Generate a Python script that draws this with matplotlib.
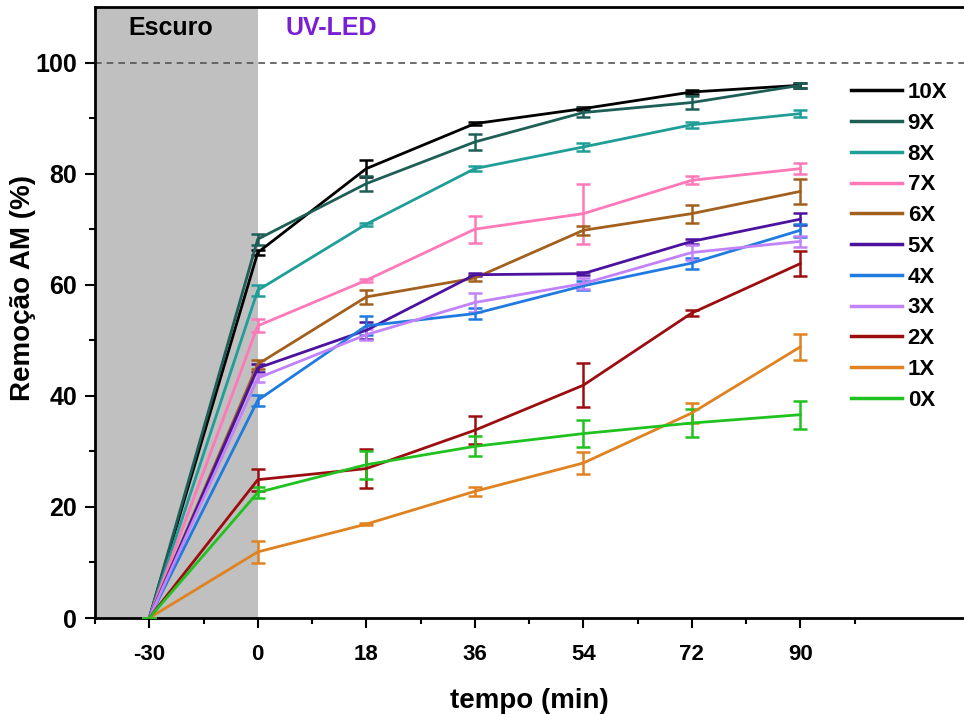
import numpy as np
import matplotlib.pyplot as plt

plt.rcParams['font.family'] = ['Liberation Sans', 'DejaVu Sans']
plt.rcParams['font.weight'] = 'bold'

# tempo (min) - plotted as equally spaced categories
tempo = ['-30', '0', '18', '36', '54', '72', '90']

series = ['10X', '9X', '8X', '7X', '6X', '5X', '4X', '3X', '2X', '1X', '0X']
colors = ['#000000', '#1d5e57', '#1f9e98', '#ff78b8', '#a2601c', '#4b12a0',
          '#1f7be0', '#c182fa', '#9c0d10', '#e0821f', '#1fc21f']

y_10x = [0, 65.8, 80.9, 89.0, 91.7, 94.7, 95.9]
y_9x = [0, 68.2, 78.2, 85.7, 91.0, 92.8, 95.9]
y_8x = [0, 59.0, 70.9, 80.9, 84.8, 88.8, 90.8]
y_7x = [0, 52.6, 60.8, 70.0, 72.8, 78.8, 80.9]
y_6x = [0, 45.7, 57.8, 61.2, 69.8, 72.8, 76.8]
y_5x = [0, 45.0, 51.8, 61.8, 62.0, 67.8, 71.8]
y_4x = [0, 39.2, 52.6, 54.8, 59.8, 63.9, 69.8]
y_3x = [0, 43.2, 51.0, 56.8, 60.2, 65.8, 67.8]
y_2x = [0, 24.9, 26.9, 33.8, 41.9, 54.9, 63.8]
y_1x = [0, 11.9, 16.9, 22.8, 27.9, 36.9, 48.8]
y_0x = [0, 22.6, 27.6, 30.9, 33.2, 35.1, 36.6]

e_10x = [0, 0.5, 1.5, 0.3, 0.3, 0.4, 0.4]
e_9x = [0, 1.0, 1.3, 1.4, 0.8, 1.1, 0.4]
e_8x = [0, 1.0, 0.3, 0.5, 0.8, 0.5, 0.6]
e_7x = [0, 1.2, 0.3, 2.4, 5.4, 0.7, 1.0]
e_6x = [0, 0.8, 1.2, 0.5, 0.8, 1.6, 2.2]
e_5x = [0, 0.7, 1.5, 0.3, 0.3, 0.5, 1.1]
e_4x = [0, 1.0, 1.7, 1.0, 0.8, 1.0, 1.2]
e_3x = [0, 0.8, 1.0, 1.7, 1.0, 1.4, 1.0]
e_2x = [0, 2.0, 3.5, 2.5, 4.0, 0.6, 2.3]
e_1x = [0, 2.0, 0.2, 0.8, 2.0, 1.8, 2.3]
e_0x = [0, 1.0, 2.5, 1.8, 2.5, 2.5, 2.5]

values = [y_10x, y_9x, y_8x, y_7x, y_6x, y_5x, y_4x, y_3x, y_2x, y_1x, y_0x]
errors = [e_10x, e_9x, e_8x, e_7x, e_6x, e_5x, e_4x, e_3x, e_2x, e_1x, e_0x]

fig = plt.figure(figsize=(9.64, 7.14), dpi=100)
ax = fig.add_axes([95 / 964, 96 / 714, 869 / 964, 611 / 714])

x = np.arange(len(tempo))

# dark period (before the lamp is on) shading
ax.axvspan(-0.5, 1, color='#c0c0c0', zorder=0, lw=0)
ax.axhline(100, color='#555555', ls=(0, (4, 3)), lw=1.2, zorder=1)

for name, c, y, e in zip(series, colors, values, errors):
    ax.errorbar(x, y, yerr=e, color=c, lw=2, elinewidth=1.8, capsize=5,
                capthick=1.8, label=name, zorder=3)

ax.set_xlim(-0.5, -0.5 + 869 / 108.5)
ax.set_ylim(0, 110)

ax.set_xticks(x)
ax.set_xticklabels(tempo)
ax.set_xticks(np.arange(-0.5, 7, 1), minor=True)
ax.set_yticks(np.arange(0, 101, 20))
ax.set_yticks(np.arange(10, 101, 20), minor=True)
ax.tick_params(axis='both', which='major', direction='out', length=7, width=1.5,
               pad=6)
ax.tick_params(axis='y', which='major', labelsize=18)
ax.tick_params(axis='x', which='major', labelsize=16, pad=12)
ax.tick_params(axis='both', which='minor', direction='out', length=4, width=1.5)
for lab in ax.get_xticklabels() + ax.get_yticklabels():
    lab.set_fontweight('bold')

for s in ['left', 'bottom', 'top']:
    ax.spines[s].set_linewidth(2)
ax.spines['right'].set_visible(False)

ax.set_xlabel('tempo (min)', fontsize=20, fontweight='bold', labelpad=16)
ax.set_ylabel('Remoção AM (%)', fontsize=20, fontweight='bold')
ax.yaxis.set_label_coords(-0.068, 0.54)

ax.text(0.2, 106.2, 'Escuro', ha='center', va='center', fontsize=18,
        fontweight='bold', color='black')
ax.text(1.68, 106.2, 'UV-LED', ha='center', va='center', fontsize=18,
        fontweight='bold', color='#7a1fd6')

handles, labels = ax.get_legend_handles_labels()
handles = [h[0] for h in handles]
leg = ax.legend(handles, labels, loc='upper left', bbox_to_anchor=(0.847, 0.91),
                frameon=False, fontsize=16, handlelength=2.3, handletextpad=0.25,
                labelspacing=0.44)
for t in leg.get_texts():
    t.set_fontweight('bold')
for l in leg.get_lines():
    l.set_linewidth(2.5)

fig.savefig('out.png', dpi=100)
